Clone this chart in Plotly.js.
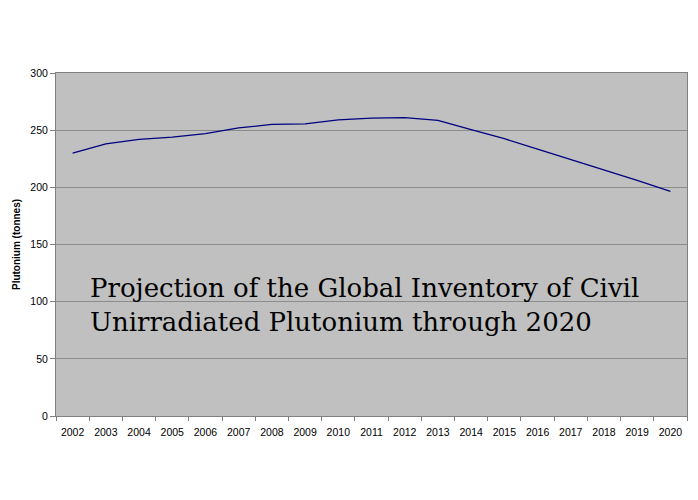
<!DOCTYPE html>
<html><head><meta charset="utf-8">
<script src="https://cdn.plot.ly/plotly-3.0.1.min.js"></script>
<style>html,body{margin:0;padding:0;background:#fff}</style>
</head><body>
<div id="chart" style="width:698px;height:500px"></div>
<script>
const years = ["2002","2003","2004","2005","2006","2007","2008","2009","2010","2011","2012","2013","2014","2015","2016","2017","2018","2019","2020"];
const plutonium = [230,238,242,244,247,252,255,255.5,259,260.5,261,258.5,250.5,242.5,233.5,224.5,215.5,206,196.5];
const yTicks = [0,50,100,150,200,250,300];
const chartTitle = "Projection of the Global Inventory of Civil<br>Unirradiated Plutonium through 2020";
const yTitle = "Plutonium (tonnes)";

Plotly.newPlot("chart", [{
  x: years, y: plutonium, type: "scatter", mode: "lines",
  line: {color: "#000080", width: 1.3}, hoverinfo: "skip"
}], {
  width: 698, height: 500,
  margin: {l: 56, r: 11, t: 73, b: 84},
  paper_bgcolor: "#ffffff", plot_bgcolor: "#c0c0c0",
  showlegend: false,
  font: {family: "Liberation Sans, Arial, sans-serif", color: "#000", size: 10},
  xaxis: {
    type: "category", range: [-0.5, 18.5], tickson: "boundaries", tickangle: 0,
    ticks: "outside", ticklen: 4, tickcolor: "#808080", ticklabelstandoff: 6,
    showline: true, linecolor: "#808080", linewidth: 1, mirror: true,
    showgrid: false, tickfont: {size: 10.5}, zeroline: false
  },
  yaxis: {
    range: [0, 300], tickvals: yTicks, ticks: "outside", ticklen: 5, tickcolor: "#808080",
    showline: true, linecolor: "#808080", linewidth: 1, mirror: true,
    showgrid: true, gridcolor: "#8c8c8c", gridwidth: 1, zeroline: false,
    tickfont: {size: 10.5},
    title: {text: yTitle, font: {size: 10, family: "Liberation Sans, Arial, sans-serif", weight: "bold"}, standoff: 7}
  },
  annotations: [{
    text: chartTitle, xref: "paper", yref: "paper", x: 0.05, y: 0.325,
    xanchor: "left", yanchor: "middle", align: "left", showarrow: false,
    font: {family: "DejaVu Serif, serif", size: 26, color: "#000"}
  }]
}, {staticPlot: true});
</script>
</body></html>
